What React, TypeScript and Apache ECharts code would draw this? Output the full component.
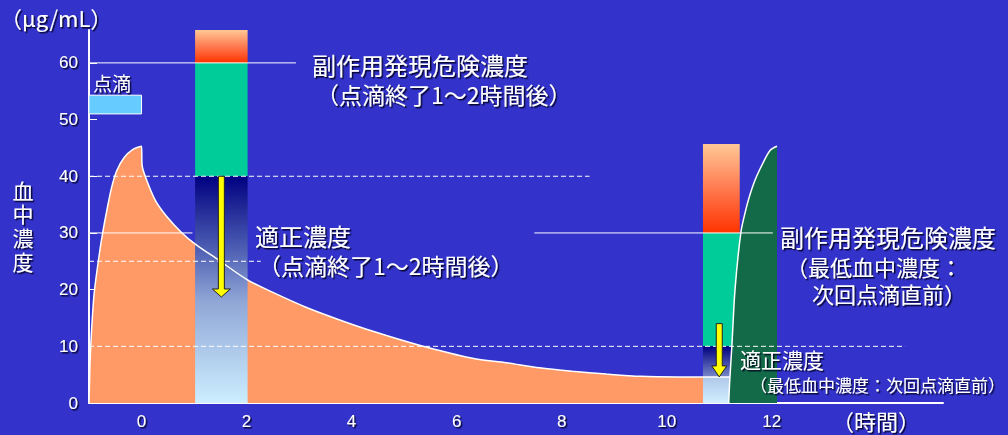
import React, { useEffect, useRef } from 'react';
import * as echarts from 'echarts';

// Axis ranges and tick positions
const X_MIN = -1;
const X_MAX = 15.26;
const Y_MIN = 0;
const Y_MAX = 65.8;
const xTickValues = [0, 2, 4, 6, 8, 10, 12];
const yTickValues = [0, 10, 20, 30, 40, 50, 60];

// Serum concentration after the first infusion (time h, conc µg/mL)
const firstDoseCurve: [number, number][] = [
  [-1.0, 0], [-0.99, 3.5], [-0.98, 7], [-0.95, 13], [-0.9, 19.5], [-0.8, 26.5],
  [-0.74, 30], [-0.66, 34], [-0.57, 38], [-0.47, 41], [-0.33, 43.3], [-0.17, 44.7],
  [0, 45.3], [0.01, 42], [0.07, 40], [0.26, 35.8], [0.48, 32.9], [0.77, 30],
  [1.03, 28], [1.47, 25.2], [2.02, 21.7], [2.48, 19.6], [3.13, 16.9], [3.76, 14.7],
  [4.39, 12.7], [5.29, 10.2], [6.3, 7.9], [6.95, 7.1], [7.58, 6.2], [8.2, 5.6],
  [8.85, 5.1], [9.5, 4.7], [10.2, 4.6], [11.2, 4.6],
];

// Rise during the next infusion
const secondDoseRise: [number, number][] = [
  [11.18, 0], [11.2, 4], [11.24, 10], [11.3, 20], [11.41, 30], [11.49, 33.5],
  [11.57, 36.3], [11.68, 39.3], [11.83, 42.3], [11.97, 44.6], [12.1, 45.3],
];

// Concentration zones: [x0, x1, yLow, yHigh]
const zoneRects: [number, number, number, number][] = [
  [1.02, 2.02, 60, 65.8],
  [1.02, 2.02, 40, 60],
  [1.02, 2.02, 0, 40],
  [10.69, 11.39, 30, 45.7],
  [10.69, 11.39, 10, 30],
  [10.69, 11.39, 4.6, 10],
  [10.69, 11.39, 0, 4.6],
];

// Infusion period marker: [x0, x1, yLow, yHigh]
const infusionBar: [number, number, number, number][] = [[-1, 0, 51, 54.3]];

// Downward arrows: [x, yFrom, yTo]
const arrows: [number, number, number][] = [
  [1.52, 40, 18.7],
  [11.0, 14, 4.6],
];

// Reference lines: [x0, x1, y]
const solidGuides: [number, number, number][] = [
  [-1, 2.94, 60],
  [-1, 0.97, 30],
  [7.48, 12.02, 30],
];
const dashedGuides: [number, number, number][] = [
  [-1, 8.53, 40],
  [-1, 2.27, 25],
  [-1, 14.54, 10],
];

const BG = '#3333cc';
const WHITE = '#ffffff';
const CJK = '"Noto Sans CJK JP", "Noto Sans CJK SC", sans-serif';
const LATIN = '"Liberation Sans", Arial, sans-serif';

const grad = (stops: [number, string][]) =>
  new echarts.graphic.LinearGradient(0, 0, 0, 1, stops.map(([offset, color]) => ({ offset, color })));

const toxicFill = () => grad([[0, '#ffc896'], [0.5, '#ff7a50'], [1, '#ff3300']]);
const TEAL = '#00cc99';

const zoneFills = [
  toxicFill(),
  TEAL,
  grad([[0, '#000080'], [0.3, '#4858b0'], [0.55, '#90a6d6'], [1, '#cceeff']]),
  toxicFill(),
  TEAL,
  grad([[0, '#000080'], [1, '#7888c8']]),
  grad([[0, '#aec8e8'], [1, '#d2eeff']]),
];

// Arrow shapes: [shaftWidth, headWidth, headLength] in px
const arrowShapes: [number, number, number][] = [
  [6, 18, 8],
  [6, 15, 11],
];

const shadow = {
  textShadowColor: 'rgba(0,0,30,0.9)',
  textShadowBlur: 1,
  textShadowOffsetX: 1.5,
  textShadowOffsetY: 1.5,
};

const label = (text: string, x: number, y: number, size: number, extra: any = {}) => ({
  type: 'text',
  x,
  y,
  z: 100,
  style: {
    text,
    fill: WHITE,
    font: `${size}px ${CJK}`,
    textAlign: 'left',
    textVerticalAlign: 'middle',
    align: 'left',
    verticalAlign: 'middle',
    ...shadow,
    ...extra,
  },
});

const curveSmooth = 0.3;

export default function App() {
  const ref = useRef<HTMLDivElement>(null);

  useEffect(() => {
    if (!ref.current) return;
    const chart = echarts.init(ref.current, undefined, { renderer: 'svg' });

    const guideSeries = (rows: [number, number, number][], dashed: boolean) =>
      rows.map(([x0, x1, y]) => ({
        type: 'line',
        data: [[x0, y], [x1, y]],
        showSymbol: false,
        silent: true,
        z: 6,
        lineStyle: { color: WHITE, width: 1, type: dashed ? [5, 3] : 'solid' },
      }));

    const rectSeries = (rows: [number, number, number, number][], fills: any[], z: number, stroke?: string) => ({
      type: 'custom',
      z,
      silent: true,
      encode: { x: [0, 1], y: [2, 3] },
      data: rows,
      renderItem: (params: any, api: any) => {
        const p0 = api.coord([api.value(0), api.value(3)]);
        const p1 = api.coord([api.value(1), api.value(2)]);
        return {
          type: 'rect',
          shape: { x: p0[0], y: p0[1], width: p1[0] - p0[0], height: p1[1] - p0[1] },
          style: stroke
            ? { fill: fills[params.dataIndex], stroke, lineWidth: 1 }
            : { fill: fills[params.dataIndex] },
        };
      },
    });

    const option: any = {
      animation: false,
      backgroundColor: BG,
      grid: { left: 89, right: 65, top: 30, bottom: 32, containLabel: false },
      xAxis: {
        type: 'value',
        min: X_MIN,
        max: X_MAX,
        axisLine: { onZero: false, lineStyle: { color: WHITE, width: 2 } },
        axisTick: { inside: true, length: 8, customValues: xTickValues, lineStyle: { color: WHITE, width: 1 } },
        axisLabel: {
          customValues: xTickValues,
          color: WHITE,
          fontSize: 17,
          fontFamily: LATIN,
          margin: 10,
          ...shadow,
        },
        splitLine: { show: false },
      },
      yAxis: {
        type: 'value',
        min: Y_MIN,
        max: Y_MAX,
        axisLine: { show: true, onZero: false, lineStyle: { color: WHITE, width: 2 } },
        axisTick: { show: true, inside: true, length: 8, customValues: yTickValues, lineStyle: { color: WHITE, width: 1 } },
        axisLabel: {
          customValues: yTickValues,
          color: WHITE,
          fontSize: 17,
          fontFamily: LATIN,
          margin: 11,
          ...shadow,
        },
        splitLine: { show: false },
      },
      series: [
        {
          type: 'line',
          data: firstDoseCurve,
          smooth: curveSmooth,
          showSymbol: false,
          silent: true,
          z: 1,
          lineStyle: { width: 0, opacity: 0 },
          areaStyle: { color: '#ff9966', opacity: 1 },
        },
        rectSeries(zoneRects, zoneFills, 2),
        {
          type: 'line',
          data: secondDoseRise,
          smooth: curveSmooth,
          showSymbol: false,
          silent: true,
          z: 3,
          lineStyle: { color: WHITE, width: 1.5 },
          areaStyle: { color: '#126a48', opacity: 1 },
        },
        {
          type: 'line',
          data: firstDoseCurve,
          smooth: curveSmooth,
          showSymbol: false,
          silent: true,
          z: 5,
          lineStyle: { color: WHITE, width: 1.5 },
        },
        ...guideSeries(solidGuides, false),
        ...guideSeries(dashedGuides, true),
        rectSeries(infusionBar, ['#66ccff'], 7, WHITE),
        {
          type: 'custom',
          z: 8,
          silent: true,
          encode: { x: 0, y: [1, 2] },
          data: arrows,
          renderItem: (params: any, api: any) => {
            const top = api.coord([api.value(0), api.value(1)]);
            const tip = api.coord([api.value(0), api.value(2)]);
            const [sw, hw, hl] = arrowShapes[params.dataIndex];
            const cx = top[0];
            const neck = tip[1] - hl;
            return {
              type: 'polygon',
              shape: {
                points: [
                  [cx - sw / 2, top[1]],
                  [cx + sw / 2, top[1]],
                  [cx + sw / 2, neck],
                  [cx + hw / 2, neck],
                  [cx, tip[1]],
                  [cx - hw / 2, neck],
                  [cx - sw / 2, neck],
                ],
              },
              style: { fill: '#ffff00', stroke: '#222222', lineWidth: 1 },
            };
          },
        },
      ],
      graphic: [
        label('（μg/mL）', 0, 17, 22),
        label('血', 23, 190, 21, { textAlign: 'center', align: 'center' }),
        label('中', 23, 213, 21, { textAlign: 'center', align: 'center' }),
        label('濃', 23, 237, 21, { textAlign: 'center', align: 'center' }),
        label('度', 23, 261, 21, { textAlign: 'center', align: 'center' }),
        label('点滴', 93, 82, 19),
        label('副作用発現危険濃度', 312, 64, 24),
        label('（点滴終了1～2時間後）', 316, 94, 23),
        label('適正濃度', 255, 235, 24),
        label('（点滴終了1～2時間後）', 258, 265, 23),
        label('副作用発現危険濃度', 780, 236, 24),
        label('（最低血中濃度：', 786, 266, 22),
        label('次回点滴直前）', 812, 293, 22),
        label('適正濃度', 740, 359, 21),
        label('（最低血中濃度：次回点滴直前）', 750, 384, 17),
        label('（時間）', 832, 420, 22),
      ],
    };

    chart.setOption(option);
    return () => chart.dispose();
  }, []);

  return (
    <div
      ref={ref}
      style={{ position: 'fixed', left: 0, top: 0, width: 1008, height: 435 }}
    />
  );
}
